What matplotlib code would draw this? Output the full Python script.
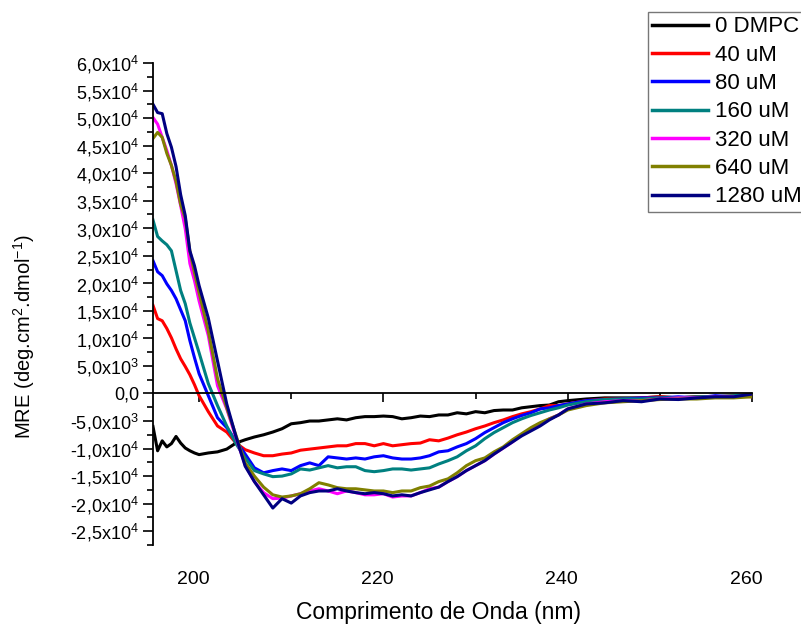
import matplotlib
matplotlib.use("Agg")
import matplotlib.pyplot as plt
import matplotlib.transforms as mtransforms
from matplotlib.ticker import MultipleLocator, FuncFormatter

plt.rcParams['font.family'] = ['Liberation Sans', 'DejaVu Sans']
plt.rcParams['mathtext.fontset'] = 'custom'
plt.rcParams['mathtext.rm'] = 'Liberation Sans'

# wavelength (nm)
wl = [195, 195.5, 196, 196.5, 197, 197.5, 198, 198.5, 199, 199.5, 200,
      201, 202, 203, 204, 205, 206, 207, 208, 209, 210,
      211, 212, 213, 214, 215, 216, 217, 218, 219, 220,
      221, 222, 223, 224, 225, 226, 227, 228, 229, 230,
      231, 232, 233, 234, 235, 236, 237, 238, 239, 240,
      242, 244, 246, 248, 250, 252, 254, 256, 258, 260]

# MRE values in units of 10^3 deg.cm2.dmol-1
mre_0 = [-6.0, -10.4, -8.6, -9.7, -9.1, -7.8, -9.0, -9.9, -10.4, -10.8, -11.1,
         -10.8, -10.6, -10.1, -9.0, -8.4, -7.9, -7.5, -7.0, -6.4, -5.5,
         -5.3, -5.0, -5.0, -4.8, -4.6, -4.8, -4.4, -4.2, -4.2, -4.1,
         -4.2, -4.6, -4.4, -4.1, -4.2, -3.9, -3.9, -3.5, -3.7, -3.3,
         -3.5, -3.1, -3.0, -3.0, -2.6, -2.4, -2.2, -2.1, -1.5, -1.3,
         -1.0, -0.8, -0.8, -0.8, -0.6, -0.8, -0.6, -0.6, -0.6, -0.3]
mre_40 = [16.0, 13.6, 13.2, 11.8, 10.1, 8.1, 6.3, 4.9, 3.4, 1.6, -0.4,
          -3.3, -5.9, -7.0, -9.0, -10.2, -10.8, -11.3, -11.3, -11.0, -10.8,
          -10.3, -10.1, -9.9, -9.7, -9.5, -9.5, -9.1, -9.1, -9.5, -9.1,
          -9.5, -9.3, -9.1, -9.0, -8.4, -8.6, -8.1, -7.5, -7.0, -6.4,
          -5.9, -5.3, -4.8, -4.2, -3.7, -3.3, -2.8, -2.2, -2.2, -1.9,
          -1.3, -1.0, -1.0, -0.8, -0.6, -0.8, -0.6, -0.6, -0.4, -0.6]
mre_80 = [24.1, 22.1, 21.4, 19.9, 18.7, 17.2, 15.2, 13.2, 9.6, 6.5, 3.6,
          -0.4, -4.4, -6.2, -8.6, -11.0, -13.5, -14.4, -14.0, -13.7, -14.0,
          -13.1, -12.6, -13.1, -11.5, -11.7, -11.9, -11.7, -11.9, -11.5, -11.3,
          -11.7, -11.9, -11.9, -11.7, -11.3, -10.6, -10.4, -9.7, -9.1, -8.2,
          -7.1, -6.2, -5.3, -4.6, -4.0, -3.5, -2.8, -2.6, -2.2, -1.9,
          -1.3, -1.1, -1.0, -0.8, -0.8, -0.6, -0.8, -0.4, -0.6, -0.2]
mre_160 = [31.5, 28.5, 27.7, 27.0, 25.9, 22.3, 18.7, 16.3, 12.8, 10.1, 7.4,
           1.8, -2.2, -5.9, -9.1, -11.7, -14.0, -14.6, -15.1, -15.0, -14.6,
           -13.7, -13.9, -13.5, -13.1, -13.5, -13.3, -13.3, -14.0, -14.2, -14.0,
           -13.7, -13.7, -13.9, -13.7, -13.5, -12.8, -12.2, -11.5, -10.4, -9.5,
           -8.2, -7.1, -6.2, -5.3, -4.6, -4.0, -3.5, -3.0, -2.6, -2.1,
           -1.5, -1.1, -1.0, -1.0, -0.8, -0.8, -0.6, -0.6, -0.4, -0.2]
mre_320 = [50.1, 48.9, 46.5, 44.1, 41.4, 38.1, 34.1, 29.9, 23.6, 20.5, 16.8,
           10.5, 1.4, -2.8, -8.0, -13.0, -16.0, -18.0, -19.1, -19.0, -18.6,
           -18.2, -17.7, -17.3, -17.7, -18.2, -17.7, -18.0, -18.4, -18.4, -18.2,
           -18.8, -18.6, -18.6, -18.0, -17.3, -17.0, -16.0, -15.1, -14.0, -13.1,
           -12.2, -11.0, -9.9, -8.8, -7.5, -6.6, -5.7, -4.6, -3.9, -2.8,
           -1.9, -1.5, -1.3, -1.3, -1.0, -0.8, -0.8, -0.6, -0.6, -0.4]
mre_640 = [46.3, 47.4, 46.5, 43.6, 41.4, 38.5, 34.3, 31.8, 25.9, 21.9, 18.3,
           11.4, 2.7, -2.6, -7.6, -12.6, -15.0, -17.0, -18.4, -18.8, -18.6,
           -18.2, -17.3, -16.2, -16.6, -17.1, -17.3, -17.3, -17.5, -17.7, -17.7,
           -18.0, -17.7, -17.7, -17.1, -16.8, -16.0, -15.5, -14.4, -13.1, -12.2,
           -11.7, -10.6, -9.7, -8.4, -7.3, -6.2, -5.3, -4.6, -3.9, -3.0,
           -2.2, -1.7, -1.5, -1.3, -1.1, -1.0, -1.0, -0.8, -0.8, -0.6]
mre_1280 = [52.5, 51.0, 50.8, 47.2, 44.7, 41.2, 36.1, 32.3, 25.9, 23.2, 19.6,
            13.7, 5.9, -1.9, -7.8, -13.2, -16.0, -18.4, -20.8, -19.1, -19.9,
            -18.6, -18.0, -17.7, -17.7, -17.3, -17.7, -18.0, -18.2, -18.0, -18.2,
            -18.6, -18.4, -18.6, -18.0, -17.5, -17.0, -16.0, -15.1, -14.0, -13.1,
            -12.2, -11.0, -9.9, -8.8, -7.7, -6.8, -5.9, -4.8, -3.9, -2.8,
            -1.9, -1.7, -1.3, -1.5, -1.0, -1.1, -0.8, -0.6, -0.6, -0.1]

labels = ['0 DMPC', '40 uM', '80 uM', '160 uM', '320 uM', '640 uM', '1280 uM']
colors = ['#000000', '#ff0000', '#0000ff', '#008080', '#ff00ff', '#808000', '#000080']
series = [mre_0, mre_40, mre_80, mre_160, mre_320, mre_640, mre_1280]
x_ticks = [200, 220, 240, 260]


def sci_fmt(v, pos):
    if abs(v) < 1:
        return '0,0'
    exp = 4 if abs(v) >= 1e4 else 3
    m = v / 10 ** exp
    return ('%.1f' % m).replace('.', ',') + 'x10$^{%d}$' % exp


fig = plt.figure(figsize=(8.01, 6.30), dpi=100)
ax = fig.add_axes([0.191, 0.135, 0.748, 0.765])

for vals, c, lab in zip(series, colors, labels):
    ax.plot(wl, [v * 1000 for v in vals], color=c, lw=2.2, label=lab)

ax.set_xlim(195, 260)
ax.set_ylim(-27500, 60000)

ax.spines['top'].set_visible(False)
ax.spines['right'].set_visible(False)
ax.spines['bottom'].set_position(('data', 0))
ax.spines['left'].set_linewidth(1.3)
ax.spines['bottom'].set_linewidth(1.3)

ax.yaxis.set_major_locator(MultipleLocator(5000))
ax.yaxis.set_minor_locator(MultipleLocator(2500))
ax.yaxis.set_major_formatter(FuncFormatter(sci_fmt))
ax.tick_params(axis='y', which='major', direction='out', length=7, width=1.2,
               labelsize=13, pad=3)
ax.tick_params(axis='y', which='minor', direction='out', length=4.5, width=1.2)

ax.set_xticks(x_ticks)
ax.xaxis.set_minor_locator(MultipleLocator(10))
ax.tick_params(axis='x', which='major', direction='out', length=6.5, width=1.2,
               labelbottom=False)
ax.tick_params(axis='x', which='minor', direction='out', length=4, width=1.2)

# tick labels sit below the plot, not at the zero line
lab_tr = mtransforms.blended_transform_factory(ax.transData, ax.transAxes) + \
    mtransforms.ScaledTranslation(-6 / 100, 0, fig.dpi_scale_trans)
for t in x_ticks:
    ax.text(t, -0.072, str(t), transform=lab_tr, ha='center', va='center',
            fontsize=14)

fig.text(438 / 801, 1 - 612 / 630, 'Comprimento de Onda (nm)', fontsize=16.5,
         ha='center', va='center')
fig.text(24 / 801, 1 - 337 / 630, 'MRE (deg.cm$^{2}$.dmol$^{-1}$)', fontsize=14.5,
         ha='center', va='center', rotation=90)

leg = fig.legend(loc='upper left', bbox_to_anchor=(648 / 801, 1 - 12 / 630),
                 fontsize=16, frameon=True, fancybox=False, borderaxespad=0,
                 handlelength=2.5, handletextpad=0.3, labelspacing=0.33,
                 borderpad=0.2)
leg.get_frame().set_edgecolor('#555555')
leg.get_frame().set_linewidth(1.0)
for line in leg.get_lines():
    line.set_linewidth(2.5)

fig.savefig('out.png', dpi=100)
